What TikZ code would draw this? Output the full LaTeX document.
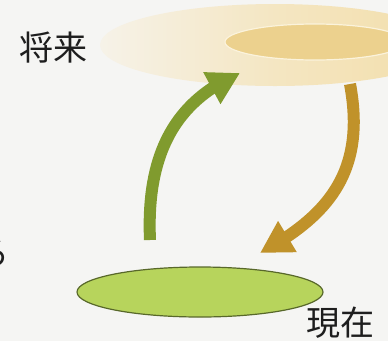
\documentclass[tikz,border=0pt]{standalone}
\usepackage{fontspec}
\newfontfamily\jp{Noto Sans CJK JP}
\usetikzlibrary{arrows.meta,shapes.geometric,bending}
\definecolor{bg}{RGB}{245,245,243}
\definecolor{outerL}{RGB}{246,242,232}
\definecolor{outerM}{RGB}{244,230,194}
\definecolor{outerR}{RGB}{243,222,170}
\definecolor{innerF}{RGB}{236,209,142}
\definecolor{innerD}{RGB}{251,243,220}
\definecolor{nowF}{RGB}{183,212,92}
\definecolor{nowD}{RGB}{88,104,42}
\definecolor{greenA}{RGB}{128,155,46}
\definecolor{goldA}{RGB}{192,146,42}
\definecolor{txt}{RGB}{30,30,30}
\tikzset{
  lbl/.style={font=\jp\fontsize{34}{34}\selectfont, text=txt, inner sep=0pt},
  bigarrow/.style={line width=12pt, -{Triangle[length=32pt,width=34pt,flex]}},
}
\begin{document}
\begin{tikzpicture}[x=1pt,y=-1pt]
\fill[bg] (0,0) rectangle (388,341);
\useasboundingbox (0,0) rectangle (388,341);
% future ellipses
\node[ellipse, minimum width=350pt, minimum height=82pt, inner sep=0pt,
      left color=outerL, right color=outerR, middle color=outerM] (future) at (275,45) {};
\node[ellipse, minimum width=180pt, minimum height=36pt, inner sep=0pt,
      fill=innerF, draw=innerD, line width=1.2pt] (futureIn) at (315,42) {};
% present ellipse
\node[ellipse, minimum width=246pt, minimum height=50pt, inner sep=0pt,
      fill=nowF, draw=nowD, line width=1.2pt] (now) at (200,292) {};
% labels
\node[lbl] (futureLbl) at (53,48) {将来};
\node[lbl] (nowLbl) at (340,323) {現在};
\node[lbl, anchor=east] (cutLbl) at (10,253) {る};
% arrow endpoints
\coordinate (gS) at (150,240);
\coordinate (gE) at (240,73);
\coordinate (oS) at (350,84);
\coordinate (oE) at (260,253);
\draw[bigarrow, greenA] (gS) .. controls (146,150) and (178,100) .. (gE);
\draw[bigarrow, goldA] (oS) .. controls (366,170) and (330,215) .. (oE);
\end{tikzpicture}
\end{document}
